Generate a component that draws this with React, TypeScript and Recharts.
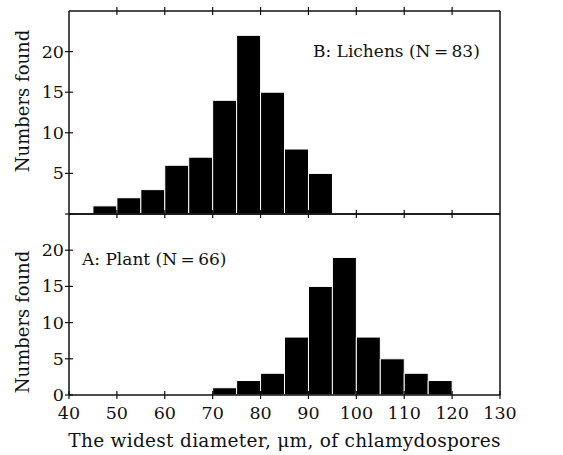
import { Bar, BarChart, ReferenceLine, XAxis, YAxis } from 'recharts';

// 5 µm bins, labelled by their lower edge
const binStarts = [40, 45, 50, 55, 60, 65, 70, 75, 80, 85, 90, 95, 100, 105, 110, 115, 120, 125];
const binMids = [42.5, 47.5, 52.5, 57.5, 62.5, 67.5, 72.5, 77.5, 82.5, 87.5, 92.5, 97.5, 102.5, 107.5, 112.5, 117.5, 122.5, 127.5];
const lichensCounts = [0, 1, 2, 3, 6, 7, 14, 22, 15, 8, 5, 0, 0, 0, 0, 0, 0, 0];
const plantCounts = [0, 0, 0, 0, 0, 0, 1, 2, 3, 8, 15, 19, 8, 5, 3, 2, 0, 0];
const xTicks = [40, 50, 60, 70, 80, 90, 100, 110, 120, 130];
const xTicksInner = [50, 60, 70, 80, 90, 100, 110, 120];
const yTicksTop = [0, 5, 10, 15, 20];
const yTicksBottom = [0, 5, 10, 15, 20];

const lichensData = binStarts.map((b, i) => ({ bin: b, mid: binMids[i], count: lichensCounts[i] }));
const plantData = binStarts.map((b, i) => ({ bin: b, mid: binMids[i], count: plantCounts[i] }));

const FONT = '"DejaVu Serif", serif';
const INK = '#111';
const W = 563;
const M_RIGHT = 63;
const Y_W = 69;

// tick marks that cross the axis line
function XTick(props: any) {
  const { x, y, payload, showLabel } = props;
  return (
    <g>
      <line x1={x} x2={x} y1={y - 4} y2={y + 4} stroke={INK} strokeWidth={1.2} />
      {showLabel && (
        <text x={x} y={y + 24} textAnchor="middle" fontFamily={FONT} fontSize={17.5} fill={INK}>
          {payload.value}
        </text>
      )}
    </g>
  );
}

function YTick(props: any) {
  const { x, y, payload, hideZero } = props;
  return (
    <g>
      <line x1={x - 4} x2={x + 4} y1={y} y2={y} stroke={INK} strokeWidth={1.2} />
      {!(hideZero && payload.value === 0) && (
        <text x={x - 5} y={y + 6} textAnchor="end" fontFamily={FONT} fontSize={17.5} fill={INK}>
          {payload.value}
        </text>
      )}
    </g>
  );
}

const yTitle = (cy: number) => () =>
  (
    <text
      x={22}
      y={cy}
      transform={`rotate(-90 22 ${cy})`}
      textAnchor="middle"
      dominantBaseline="central"
      fontFamily={FONT}
      fontSize={18}
      fill={INK}
    >
      Numbers found
    </text>
  );

const frame = (
  <>
    <ReferenceLine xAxisId="num" yAxisId="l" y={0} stroke={INK} strokeWidth={1.5} />
    <ReferenceLine xAxisId="num" yAxisId="l" y={25} stroke={INK} strokeWidth={1.5} />
    <ReferenceLine xAxisId="num" yAxisId="l" x={40} stroke={INK} strokeWidth={1.5} />
    <ReferenceLine xAxisId="num" yAxisId="l" x={130} stroke={INK} strokeWidth={1.5} />
  </>
);

export default function App() {
  return (
    <div style={{ position: 'absolute', left: 0, top: 0, width: W, height: 455, background: '#fff' }}>
      {/* B: lichens */}
      <div style={{ position: 'absolute', left: 0, top: 0 }}>
        <BarChart
          width={W}
          height={230}
          data={lichensData}
          margin={{ top: 10, right: M_RIGHT, bottom: 0, left: 0 }}
          barCategoryGap={0}
          barGap={0}
        >
          <XAxis
            xAxisId="top"
            orientation="top"
            dataKey="mid"
            type="number"
            domain={[40, 130]}
            ticks={xTicksInner}
            height={1}
            tickSize={0}
            tickMargin={0}
            tickLine={false}
            axisLine={false}
            tick={<XTick showLabel={false} />}
          />
          <XAxis
            xAxisId="num"
            dataKey="mid"
            type="number"
            domain={[40, 130]}
            ticks={xTicksInner}
            height={16}
            tickSize={0}
            tickMargin={0}
            tickLine={false}
            axisLine={false}
            tick={<XTick showLabel={false} />}
          />
          <XAxis xAxisId="bins" dataKey="bin" type="category" hide height={0} />
          <YAxis
            yAxisId="l"
            domain={[0, 25]}
            ticks={yTicksTop}
            width={Y_W}
            tickSize={0}
            tickMargin={0}
            tickLine={false}
            axisLine={false}
            tick={<YTick hideZero />}
            label={{ content: yTitle(101) }}
          />
          <Bar
            xAxisId="bins"
            yAxisId="l"
            dataKey="count"
            fill="#000"
            stroke="#fff"
            strokeWidth={1}
            isAnimationActive={false}
          />
          {frame}
          <text x={313} y={57} fontFamily={FONT} fontSize={17} fill={INK}>
            B: Lichens (N{'\u2009'}={'\u2009'}83)
          </text>
        </BarChart>
      </div>

      {/* A: plant */}
      <div style={{ position: 'absolute', left: 0, top: 200 }}>
        <BarChart
          width={W}
          height={255}
          data={plantData}
          margin={{ top: 14, right: M_RIGHT, bottom: 0, left: 0 }}
          barCategoryGap={0}
          barGap={0}
        >
          <XAxis
            xAxisId="num"
            dataKey="mid"
            type="number"
            domain={[40, 130]}
            ticks={xTicks}
            height={60}
            tickSize={0}
            tickMargin={0}
            tickLine={false}
            axisLine={false}
            tick={<XTick showLabel />}
            label={{
              value: 'The widest diameter, \u03bcm, of chlamydospores',
              position: 'insideBottom',
              offset: 8,
              fontFamily: FONT,
              fontSize: 18.5,
              letterSpacing: 0.3,
              fill: INK,
            }}
          />
          <XAxis xAxisId="bins" dataKey="bin" type="category" hide height={0} />
          <YAxis
            yAxisId="l"
            domain={[0, 25]}
            ticks={yTicksBottom}
            width={Y_W}
            tickSize={0}
            tickMargin={0}
            tickLine={false}
            axisLine={false}
            tick={<YTick />}
            label={{ content: yTitle(122) }}
          />
          <Bar
            xAxisId="bins"
            yAxisId="l"
            dataKey="count"
            fill="#000"
            stroke="#fff"
            strokeWidth={1}
            isAnimationActive={false}
          />
          {frame}
          <text x={82} y={65} fontFamily={FONT} fontSize={17} fill={INK}>
            A: Plant (N{'\u2009'}={'\u2009'}66)
          </text>
        </BarChart>
      </div>
    </div>
  );
}
